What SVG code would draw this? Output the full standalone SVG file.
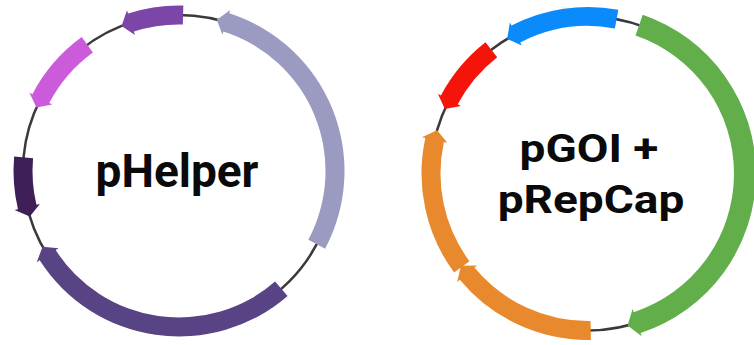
<svg xmlns="http://www.w3.org/2000/svg" width="754" height="345" viewBox="0 0 754 345">
  <style>
    .backbone { fill: none; stroke: #3a3a3a; stroke-width: 2.5; }
    .label { font-family: Roboto, "Liberation Sans", sans-serif; font-weight: 700; font-size: 46px; fill: #0a0a0a; text-anchor: middle; }
    .lavender { fill: #9b9bc1; }
    .violet { fill: #584384; }
    .plum { fill: #3e1f57; }
    .orchid { fill: #cc5bdc; }
    .purple { fill: #7b46a7; }
    .blue { fill: #0b8bfb; }
    .red { fill: #f5140a; }
    .orange { fill: #e8892e; }
    .green { fill: #62ae4b; }
  </style>
  <rect width="754" height="345" fill="#ffffff"/>

  <!-- Helper plasmid map -->
  <g id="pHelper">
    <circle class="backbone" cx="179" cy="171" r="156"/>
    <g id="pHelper-features">
      <path class="lavender" d="M325.13,248.70 A165.5,165.5 0 0 0 229.24,13.31 L230.30,9.98 L216.74,19.63 L222.41,34.75 L223.47,31.41 A146.5,146.5 0 0 1 308.35,239.78 Z"/>
      <path class="violet" d="M287.58,295.90 A165.5,165.5 0 0 1 39.68,260.34 L36.74,262.23 L42.56,246.63 L58.62,248.20 L55.68,250.09 A146.5,146.5 0 0 0 275.11,281.56 Z"/>
      <path class="plum" d="M14.13,156.57 A165.5,165.5 0 0 0 17.96,209.16 L14.56,209.97 L29.82,216.61 L39.86,203.97 L36.45,204.78 A146.5,146.5 0 0 1 33.06,158.23 Z"/>
      <path class="orchid" d="M81.72,37.11 A165.5,165.5 0 0 0 32.43,94.14 L29.33,92.52 L36.49,107.55 L52.35,104.59 L49.25,102.97 A146.5,146.5 0 0 1 92.89,52.48 Z"/>
      <path class="purple" d="M183.33,5.56 A165.5,165.5 0 0 0 128.05,13.54 L126.97,10.21 L121.57,25.95 L134.98,34.94 L133.90,31.61 A146.5,146.5 0 0 1 182.84,24.55 Z"/>
    </g>
    <text class="label" x="177" y="187">pHelper</text>
  </g>

  <!-- Gene-of-interest + Rep/Cap plasmid map -->
  <g id="pGOI-pRepCap">
    <circle class="backbone" cx="588" cy="173.5" r="157"/>
    <g id="pGOI-pRepCap-features">
      <path class="blue" d="M618.34,9.79 A166.5,166.5 0 0 0 511.51,25.61 L509.90,22.50 L507.14,38.92 L521.84,45.59 L520.23,42.48 A147.5,147.5 0 0 1 614.88,28.47 Z"/>
      <path class="red" d="M485.49,42.30 A166.5,166.5 0 0 0 440.92,95.46 L437.83,93.82 L444.91,108.89 L460.80,106.01 L457.70,104.37 A147.5,147.5 0 0 1 497.19,57.27 Z"/>
      <path class="orange" d="M454.16,272.54 A166.5,166.5 0 0 1 425.35,137.89 L421.93,137.14 L437.08,130.22 L447.33,142.70 L443.91,141.95 A147.5,147.5 0 0 0 469.43,261.24 Z"/>
      <path class="orange" d="M590.91,339.98 A166.5,166.5 0 0 1 459.80,279.75 L457.11,281.98 L460.98,265.78 L477.12,265.39 L474.43,267.62 A147.5,147.5 0 0 0 590.57,320.98 Z"/>
      <path class="green" d="M642.70,14.65 A168,168 0 0 1 640.61,333.05 L641.71,336.37 L627.57,325.43 L632.63,308.83 L633.72,312.16 A146,146 0 0 0 635.53,35.45 Z"/>
    </g>
    <text class="label" transform="translate(589,161.5) scale(1,0.85)" x="0" y="0">pGOI +</text>
    <text class="label" transform="translate(591,212.7) scale(1,0.85)" x="0" y="0">pRepCap</text>
  </g>
</svg>
